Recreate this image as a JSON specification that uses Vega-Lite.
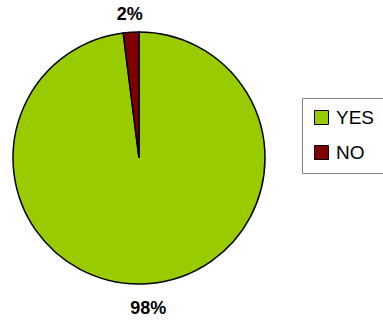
{
  "$schema": "https://vega.github.io/schema/vega-lite/v6.json",
  "width": 278,
  "height": 316,
  "padding": 0,
  "background": "white",
  "data": {
    "values": [
      {"answer": "YES", "value": 98, "label": "98%"},
      {"answer": "NO", "value": 2, "label": "2%"}
    ]
  },
  "encoding": {
    "theta": {"field": "value", "type": "quantitative", "stack": true},
    "order": {"field": "value", "type": "quantitative", "sort": "descending"}
  },
  "layer": [
    {
      "mark": {"type": "arc", "outerRadius": 126, "stroke": "black", "strokeWidth": 1.5},
      "encoding": {
        "color": {
          "field": "answer",
          "type": "nominal",
          "scale": {"domain": ["YES", "NO"], "range": ["#99CC00", "#800000"]},
          "legend": {
            "orient": "none",
            "legendX": 302,
            "legendY": 98,
            "title": null,
            "padding": 10,
            "strokeColor": "#808080",
            "fillColor": "white",
            "symbolType": "square",
            "symbolSize": 196,
            "symbolStrokeColor": "black",
            "symbolStrokeWidth": 1,
            "symbolOpacity": 1,
            "labelFont": "Liberation Sans",
            "labelFontSize": 19,
            "labelColor": "black",
            "labelOffset": 5,
            "rowPadding": 15
          }
        }
      }
    },
    {
      "mark": {"type": "text", "radius": 147, "dy": 4, "font": "Liberation Sans", "fontWeight": "bold", "fontSize": 18, "color": "black", "baseline": "middle", "align": "center"},
      "encoding": {
        "text": {"field": "label", "type": "nominal"}
      }
    }
  ],
  "config": {"view": {"stroke": null}}
}
